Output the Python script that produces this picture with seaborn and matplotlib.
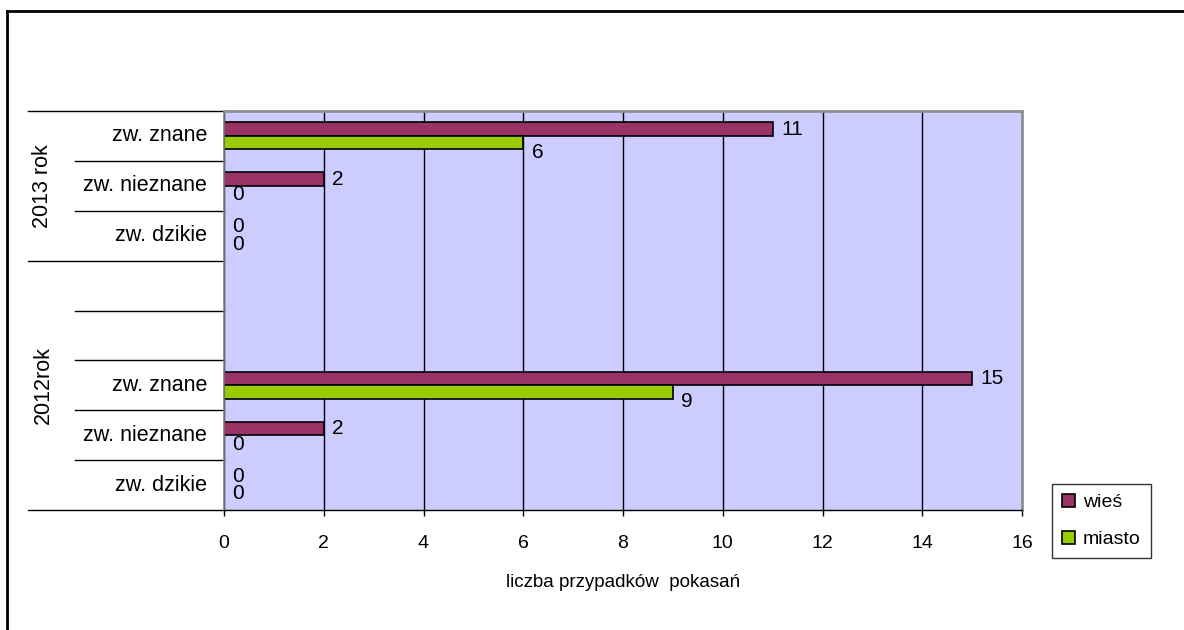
import matplotlib
matplotlib.use("Agg")
import matplotlib.pyplot as plt
from matplotlib.lines import Line2D
from matplotlib.patches import Patch
from matplotlib.transforms import blended_transform_factory
import seaborn as sns
import pandas as pd

# ---- data ----
years = ["2013 rok", "2012rok"]
types = ["zw. znane", "zw. nieznane", "zw. dzikie"]
series = ["wieś", "miasto"]
colors = ["#993366", "#99CC00"]
wies_2013 = [11, 2, 0]
miasto_2013 = [6, 0, 0]
wies_2012 = [15, 2, 0]
miasto_2012 = [9, 0, 0]
x_ticks = [0, 2, 4, 6, 8, 10, 12, 14, 16]
x_label = "liczba przypadków  pokasań"

plt.rcParams['font.family'] = ['Liberation Sans', 'DejaVu Sans']

rows = []
for yr, w_vals, m_vals in [(years[0], wies_2013, miasto_2013), (years[1], wies_2012, miasto_2012)]:
    for t, w, m in zip(types, w_vals, m_vals):
        rows.append({"cat": f"{yr}|{t}", "seria": series[0], "val": w})
        rows.append({"cat": f"{yr}|{t}", "seria": series[1], "val": m})
df = pd.DataFrame(rows)

order = ([f"{years[0]}|{t}" for t in types]
         + [f"{years[1]}|", f"{years[1]}| "]
         + [f"{years[1]}|{t}" for t in types])

fig = plt.figure(figsize=(11.84, 6.30), dpi=100)
W, H = 1184, 630
ax = fig.add_axes([224 / W, 120 / H, 798 / W, 399 / H])
ax.set_facecolor("#CCCCFF")

sns.barplot(data=df, x="val", y="cat", hue="seria", order=order, hue_order=series,
            palette=colors, orient="h", width=0.54, gap=0, saturation=1,
            edgecolor="black", linewidth=1.2, errorbar=None, legend=False, ax=ax)

ax.set_xlim(0, 16)
ax.set_ylim(len(order) - 0.5, -0.5)
ax.set_xticks(x_ticks)
ax.set_xticklabels([str(v) for v in x_ticks], fontsize=14)
ax.tick_params(axis="x", direction="out", length=4, width=1, color="black", pad=14)
ax.set_yticks([])
ax.set_ylabel("")
ax.set_xlabel(x_label, fontsize=13.5, labelpad=16)
ax.xaxis.grid(True, color="black", linewidth=1)
ax.set_axisbelow(True)
for side in ["top", "right"]:
    ax.spines[side].set_color("#909090")
    ax.spines[side].set_linewidth(2)
ax.spines["left"].set_color("#808080")
ax.spines["left"].set_linewidth(1.2)
ax.spines["bottom"].set_color("black")
ax.spines["bottom"].set_linewidth(1)

# data labels
for container, s in zip(ax.containers, series):
    for patch in container:
        w = patch.get_width()
        yc = patch.get_y() + patch.get_height() / 2
        if w > 0:
            dy = -7 if s == series[1] else 0
        else:
            dy = 1.5 if s == series[0] else -1.5
        ax.annotate(f"{w:g}", (w, yc), xytext=(6, dy), textcoords="offset points",
                    ha="left", va="center", fontsize=15, annotation_clip=False)

# multi-level category labels
tr = blended_transform_factory(ax.transAxes, ax.transData)
ax_px = lambda px: (px - 224) / 798
for i, cat in enumerate(order):
    lab = cat.split("|", 1)[1]
    if lab.strip():
        ax.text(ax_px(207), i, lab, transform=tr, ha="right", va="center", fontsize=15.5)
ax.text(ax_px(43), 1.0, years[0], transform=tr, ha="center", va="center",
        rotation=90, fontsize=15.5)
ax.text(ax_px(43), 5.0, years[1], transform=tr, ha="center", va="center",
        rotation=90, fontsize=15.5)

# separator lines
for yv in [-0.5, 2.5, 7.5]:
    ax.add_line(Line2D([ax_px(28), 0], [yv, yv], transform=tr, color="black",
                       lw=1, clip_on=False))
for yv in [0.5, 1.5, 3.5, 4.5, 5.5, 6.5]:
    ax.add_line(Line2D([ax_px(75), 0], [yv, yv], transform=tr, color="black",
                       lw=1, clip_on=False))

# legend
handles = [Patch(facecolor=c, edgecolor="black", linewidth=1.2) for c in colors]
leg = fig.legend(handles, series, loc="upper left",
                 bbox_to_anchor=(1052 / W, 1 - 484 / H), fontsize=14,
                 frameon=True, fancybox=False, edgecolor="black",
                 handlelength=0.7, handleheight=0.7, handletextpad=0.4,
                 labelspacing=1.0, borderpad=0.5, borderaxespad=0)
leg.get_frame().set_linewidth(1)

# outer frame (left and top visible)
fig.add_artist(Line2D([7 / W, 7 / W], [0, 1 - 11 / H], transform=fig.transFigure,
                      color="black", lw=2))
fig.add_artist(Line2D([7 / W, 1], [1 - 11 / H, 1 - 11 / H], transform=fig.transFigure,
                      color="black", lw=2))

fig.savefig("out.png", dpi=100, facecolor="white")
